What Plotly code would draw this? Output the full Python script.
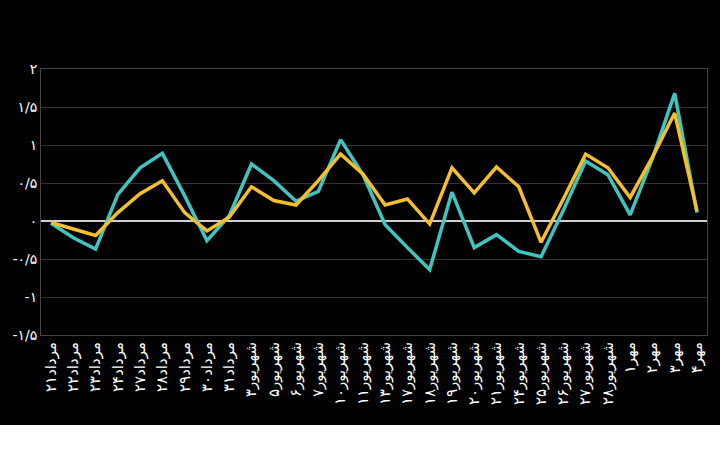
import plotly.graph_objects as go

categories = [
    "مرداد۲۱", "مرداد۲۲", "مرداد۲۳", "مرداد۲۴", "مرداد۲۷", "مرداد۲۸", "مرداد۲۹",
    "مرداد۳۰", "مرداد۳۱", "شهریور۳", "شهریور۵", "شهریور۶", "شهریور۷", "شهریور۱۰",
    "شهریور۱۱", "شهریور۱۳", "شهریور۱۷", "شهریور۱۸", "شهریور۱۹", "شهریور۲۰",
    "شهریور۲۱", "شهریور۲۴", "شهریور۲۵", "شهریور۲۶", "شهریور۲۷", "شهریور۲۸",
    "مهر۱", "مهر۲", "مهر۳", "مهر۴",
]

teal_values = [
    -0.03, -0.22, -0.37, 0.35, 0.70, 0.89, 0.33, -0.26, 0.07, 0.75,
    0.53, 0.26, 0.39, 1.07, 0.61, -0.05, -0.35, -0.64, 0.38, -0.35,
    -0.18, -0.40, -0.47, 0.14, 0.79, 0.61, 0.08, 0.82, 1.68, 0.11,
]

yellow_values = [
    -0.02, -0.11, -0.19, 0.11, 0.36, 0.53, 0.11, -0.13, 0.05, 0.45,
    0.27, 0.21, 0.53, 0.88, 0.62, 0.21, 0.29, -0.04, 0.70, 0.37,
    0.71, 0.45, -0.28, 0.29, 0.88, 0.70, 0.31, 0.84, 1.42, 0.13,
]

y_tickvals = [-1.5, -1, -0.5, 0, 0.5, 1, 1.5, 2]
y_ticktext = ["-۱/۵", "-۱", "-۰/۵", "۰", "۰/۵", "۱", "۱/۵", "۲"]

fig = go.Figure()
fig.add_trace(go.Scatter(
    x=categories, y=teal_values, mode="lines",
    line=dict(color="#40c4c0", width=3.5), showlegend=False,
))
fig.add_trace(go.Scatter(
    x=categories, y=yellow_values, mode="lines",
    line=dict(color="#f4bf2a", width=3.5), showlegend=False,
))

fig.update_layout(
    width=720, height=475,
    margin=dict(l=37, r=13, t=69, b=140),
    paper_bgcolor="#000000",
    plot_bgcolor="#000000",
    font=dict(family="DejaVu Sans", color="#ffffff"),
    shapes=[dict(
        type="rect", xref="paper", yref="paper",
        x0=-0.1, x1=1.1, y0=-0.6, y1=-0.338,
        fillcolor="#ffffff", line=dict(width=0), layer="above",
    )],
)
fig.update_xaxes(
    type="category", tickangle=-90, tickfont=dict(size=15, color="#ffffff"),
    showgrid=False, showline=True, linecolor="#444444", mirror=True,
    ticks="", range=[-0.45, 29.45],
)
fig.update_yaxes(
    range=[-1.5, 2], tickvals=y_tickvals, ticktext=y_ticktext,
    tickfont=dict(size=14, color="#ffffff"),
    showgrid=True, gridcolor="#333333", gridwidth=1,
    zeroline=True, zerolinecolor="#cfcfcf", zerolinewidth=2,
    showline=True, linecolor="#444444", mirror=True, ticks="",
)

fig.write_html("out.html")
